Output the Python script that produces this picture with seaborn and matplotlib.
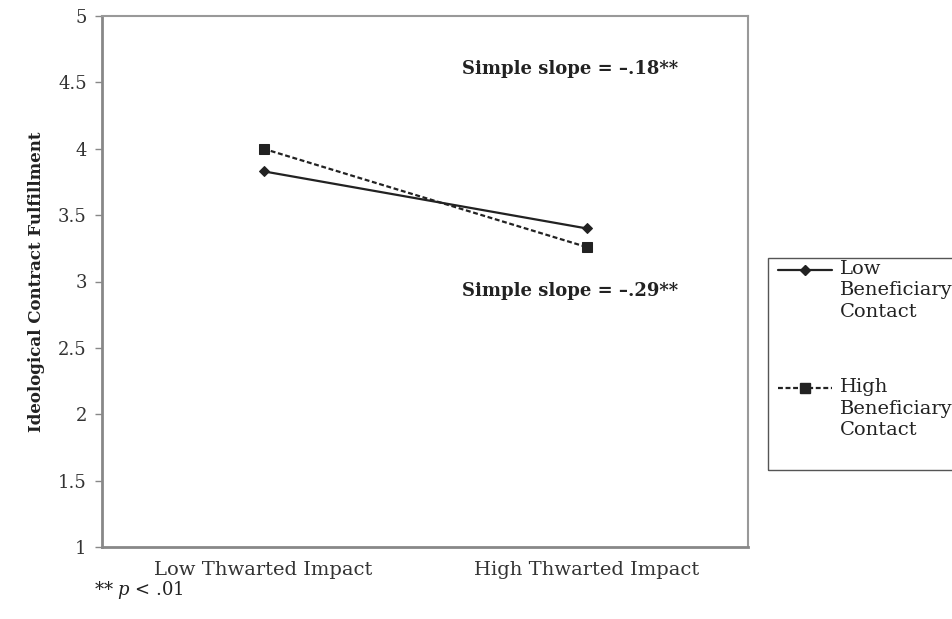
import pandas as pd
import numpy as np
import matplotlib
matplotlib.use('Agg')
import matplotlib.pyplot as plt
import seaborn as sns

# Datos
impact = ['Low Thwarted Impact', 'High Thwarted Impact']
low_contact = [3.83, 3.40]
high_contact = [4.00, 3.26]
series_names = ['Low\nBeneficiary\nContact', 'High\nBeneficiary\nContact']
y_ticks = [1, 1.5, 2, 2.5, 3, 3.5, 4, 4.5, 5]
y_tick_labels = ['1', '1.5', '2', '2.5', '3', '3.5', '4', '4.5', '5']

df = pd.DataFrame({
    'impact': impact * 2,
    'value': low_contact + high_contact,
    'contact': [series_names[0]] * 2 + [series_names[1]] * 2,
})

sns.set_style('white')
plt.rcParams['font.family'] = ['DejaVu Serif']
plt.rcParams['mathtext.fontset'] = 'dejavuserif'

W, H = 952, 619
fig = plt.figure(figsize=(W / 100, H / 100), dpi=100)
ax = fig.add_axes([102 / W, 1 - 547 / H, 646 / W, 531 / H])

ink = '#222222'
grey = '#888888'
sns.lineplot(data=df, x='impact', y='value', hue='contact', style='contact',
             palette={series_names[0]: ink, series_names[1]: ink},
             markers={series_names[0]: 'D', series_names[1]: 's'},
             dashes={series_names[0]: '', series_names[1]: (2.2, 1.2)},
             markersize=7.5, linewidth=1.6, markeredgecolor=ink, ax=ax, legend=False,
             sort=False)
# rombo más pequeño
for ln in ax.get_lines():
    if ln.get_marker() == 'D':
        ln.set_markersize(5.5)

ax.set_xlim(-0.5, 1.5)
ax.set_ylim(1, 5)
ax.set_yticks(y_ticks)
ax.set_yticklabels(y_tick_labels, fontsize=13, color='#333333')
ax.set_xticks([0, 1])
ax.set_xticklabels(impact, fontsize=14, color='#333333')
ax.set_xticks([-0.5, 0.5, 1.5], minor=True)
ax.tick_params(axis='x', which='major', length=0, pad=10)
ax.tick_params(axis='x', which='minor', length=5, color=grey, width=1)
ax.tick_params(axis='y', length=5, color=grey, width=1, left=True, pad=6)
ax.set_xlabel('')
ax.set_ylabel('Ideological Contract Fulfillment', fontsize=12, fontweight='bold',
              labelpad=9, color='#222222')

for side in ['left', 'bottom']:
    ax.spines[side].set_color(grey)
    ax.spines[side].set_linewidth(2)
for side in ['top', 'right']:
    ax.spines[side].set_color('#999999')
    ax.spines[side].set_linewidth(1.5)

ax.text(0.95, 4.6, 'Simple slope = \u2013.18**', fontsize=13, fontweight='bold',
        ha='center', va='center', color='#222222')
ax.text(0.95, 2.93, 'Simple slope = \u2013.29**', fontsize=13, fontweight='bold',
        ha='center', va='center', color='#222222')

fig.text(94 / W, 1 - 590 / H, r'** $p$ < .01', fontsize=13, ha='left', va='center', color='#222222')

# Leyenda dibujada a mano (texto en varias líneas alineado arriba)
fig.patches.append(plt.Rectangle((768 / W, 1 - 470 / H), 200 / W, 212 / H,
                                 transform=fig.transFigure, fill=False,
                                 edgecolor='#555555', linewidth=1.0))
legend_styles = [
    dict(marker='D', markersize=5, linestyle='-'),
    dict(marker='s', markersize=7, linestyle=(0, (2.2, 1.2))),
]
for i, (name, st) in enumerate(zip(series_names, legend_styles)):
    yc = [270, 388][i]
    fig.add_artist(plt.Line2D([778 / W, 805 / W, 832 / W], [1 - yc / H] * 3,
                              transform=fig.transFigure, markevery=[1],
                              color=ink, linewidth=1.6, **st))
    fig.text(840 / W, 1 - (yc - 10) / H, name, fontsize=14, ha='left', va='top',
             linespacing=1.25, color='#222222')

fig.savefig('out.png', dpi=100)
